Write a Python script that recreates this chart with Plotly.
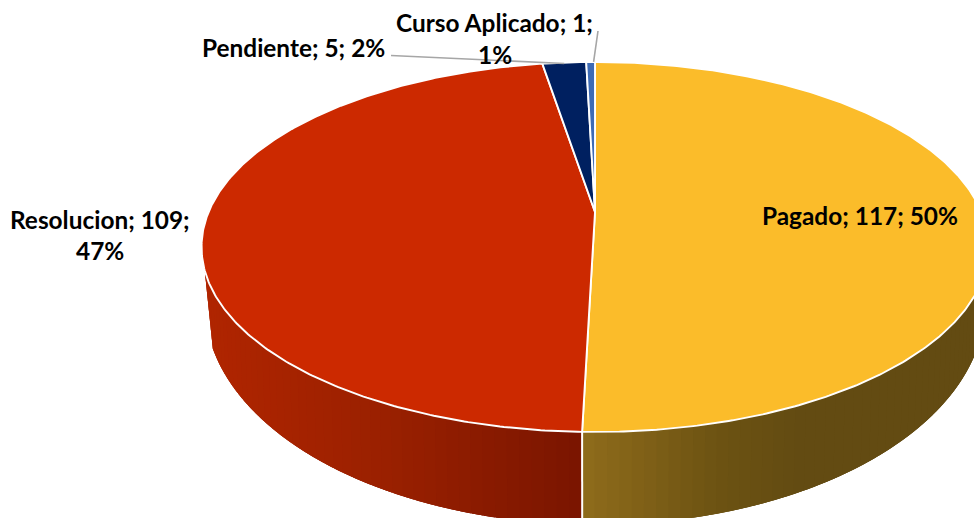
import math
import plotly.graph_objects as go

# ---- data ----
categories = ["Pagado", "Resolucion", "Pendiente", "Curso Aplicado"]
values = [117, 109, 5, 1]
percents = [50, 47, 2, 1]
colors = ["#FBBC2A", "#CC2900", "#002060", "#3E6BB5"]

# ---- canvas / projection of the tilted disc ----
W, H = 974, 518
CX = 595
K = 0.189
TOP = dict(cy=212, a=386.4, b=178.4)
BOTTOM = dict(cy=263.4, a=383.0, b=212.0)
WALL_FROM, WALL_TO, WALL_TO_BOTTOM = 108.0, 252.0, 248.0
WHITE = "#FFFFFF"
FONT = dict(family="Lato, Carlito, Calibri, sans-serif", size=24.4, color="#000000")


def project(deg, disc):
    t = math.radians(deg)
    d = 1 + K * math.cos(t)
    return CX + disc["a"] * math.sin(t) / d, disc["cy"] - disc["b"] * math.cos(t) / d


def lerp_color(stops, x):
    if x <= stops[0][0]:
        return stops[0][1]
    for (x0, c0), (x1, c1) in zip(stops, stops[1:]):
        if x <= x1:
            f = (x - x0) / (x1 - x0)
            return tuple(round(p + (q - p) * f) for p, q in zip(c0, c1))
    return stops[-1][1]


red_shade = [(205, (176, 37, 0)), (390, (153, 32, 0)), (582, (122, 21, 0))]
gold_shade = [(582, (143, 108, 27)), (720, (108, 82, 18)), (800, (99, 75, 18)), (980, (99, 75, 18))]
shades = {0: gold_shade, 1: red_shade}

fig = go.Figure()

# angular extents from the values
total = sum(values)
edges = [0.0]
for v in values:
    edges.append(edges[-1] + v / total * 360)


def wall_polygon(a0, a1, color):
    """Wall section between angles a0 and a1, following both rims."""
    n = max(2, int((a1 - a0) / 0.5))
    angles = [a0 + (a1 - a0) * s / n for s in range(n + 1)]
    upper = [project(a, TOP) for a in angles]
    lower = [project(min(a, WALL_TO_BOTTOM), BOTTOM) for a in reversed(angles)]
    pts = upper + lower + upper[:1]
    fig.add_trace(go.Scatter(
        x=[p[0] for p in pts], y=[p[1] for p in pts],
        mode="lines", fill="toself", fillcolor=color,
        line=dict(width=0), hoverinfo="skip", showlegend=False))


# side wall: each shade is painted over the rest of its section, so no seams show
step = 1.5
for i, (lo, hi) in enumerate([(WALL_FROM, edges[1]), (edges[1], WALL_TO)]):
    n = max(1, int((hi - lo) / step))
    bounds = [lo + (hi - lo) * s / n for s in range(n + 1)]
    for s in range(n):
        mid = project((bounds[s] + bounds[s + 1]) / 2, TOP)[0]
        wall_polygon(bounds[s], min(hi, bounds[s] + 3 * step), "rgb(%d,%d,%d)" % lerp_color(shades[i], mid))

# white seam between the two wall sections
s0, s1 = project(edges[1], TOP), project(edges[1], BOTTOM)
fig.add_trace(go.Scatter(x=[s0[0], s1[0]], y=[s0[1], s1[1]], mode="lines",
                         line=dict(color=WHITE, width=2), hoverinfo="skip", showlegend=False))

# top face slices
for i, cat in enumerate(categories):
    n = max(2, int((edges[i + 1] - edges[i]) / 0.5))
    arc = [project(edges[i] + (edges[i + 1] - edges[i]) * s / n, TOP) for s in range(n + 1)]
    xs = [CX] + [p[0] for p in arc] + [CX]
    ys = [TOP["cy"]] + [p[1] for p in arc] + [TOP["cy"]]
    fig.add_trace(go.Scatter(
        x=xs, y=ys, mode="lines", fill="toself", fillcolor=colors[i],
        line=dict(color=WHITE, width=1.9), name=cat,
        text=f"{cat}; {values[i]}; {percents[i]}%", hoverinfo="text", showlegend=False))

# leader lines
leader_color = "#A6A6A6"
pend_end = project((edges[2] + edges[3]) / 2, TOP)
curso_end = project((edges[3] + edges[4]) / 2, TOP)
fig.add_trace(go.Scatter(x=[391, pend_end[0]], y=[55.5, pend_end[1] + 1], mode="lines",
                         line=dict(color=leader_color, width=1.6), hoverinfo="skip", showlegend=False))
fig.add_trace(go.Scatter(x=[598, curso_end[0] + 3], y=[31, curso_end[1]], mode="lines",
                         line=dict(color=leader_color, width=1.6), hoverinfo="skip", showlegend=False))

# data labels, one entry per text line
label_lines = [
    (f"{categories[0]}; {values[0]}; {percents[0]}%", 860, 215),
    (f"{categories[1]}; {values[1]};", 100, 219),
    (f"{percents[1]}%", 100, 250),
    (f"{categories[2]}; {values[2]}; {percents[2]}%", 293, 47),
    (f"{categories[3]}; {values[3]};", 494, 22),
    (f"{percents[3]}%", 495, 54),
]
annotations = [dict(text=f"<b>{t}</b>", x=x, y=y, xref="x", yref="y", showarrow=False,
                    xanchor="center", yanchor="middle", font=FONT)
               for t, x, y in label_lines]

fig.update_layout(
    width=W, height=H, margin=dict(l=0, r=0, t=0, b=0),
    paper_bgcolor="#FFFFFF", plot_bgcolor="#FFFFFF",
    xaxis=dict(range=[0, W], visible=False, fixedrange=True),
    yaxis=dict(range=[H, 0], visible=False, fixedrange=True),
    annotations=annotations, showlegend=False,
)
fig.write_html("out.html", post_script="document.body.style.margin='0';document.body.style.overflow='hidden';",
               config=dict(displayModeBar=False))
